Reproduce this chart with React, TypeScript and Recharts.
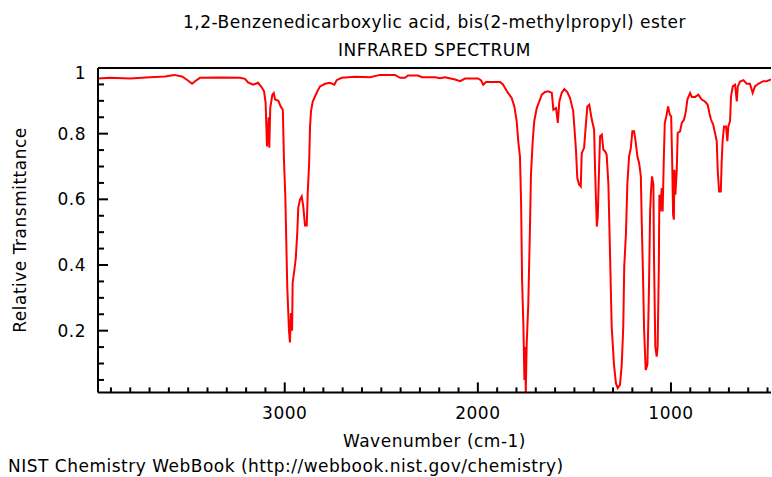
import { LineChart, Line, XAxis, YAxis, ReferenceLine } from 'recharts';

// IR spectrum, left (high cm-1) to right (low cm-1)
const wavenumber = [
  3967, 3905, 3801, 3698, 3620, 3573, 3532, 3501, 3480, 3459, 3439, 3335, 3232, 3206, 3190, 3164,
  3138, 3118, 3107, 3099, 3092, 3083, 3080, 3075, 3064, 3057, 3050, 3033, 3021, 3010, 3004, 2997,
  2987, 2978, 2973, 2968, 2962, 2959, 2950, 2943, 2935, 2930, 2921, 2912, 2904, 2895, 2886, 2881,
  2874, 2869, 2864, 2855, 2843, 2831, 2817, 2791, 2766, 2743, 2731, 2705, 2636, 2558, 2507, 2429,
  2403, 2377, 2362, 2310, 2289, 2222, 2196, 2170, 2118, 2092, 2066, 1999, 1983, 1972, 1958, 1911,
  1885, 1870, 1844, 1825, 1811, 1799, 1790, 1782, 1776, 1771, 1764, 1759, 1754, 1752, 1747, 1739,
  1730, 1725, 1716, 1708, 1695, 1682, 1669, 1652, 1635, 1617, 1609, 1595, 1586, 1578, 1566, 1552,
  1537, 1523, 1506, 1492, 1485, 1476, 1467, 1462, 1450, 1440, 1433, 1423, 1410, 1398, 1393, 1384,
  1379, 1372, 1367, 1358, 1350, 1341, 1333, 1324, 1316, 1307, 1295, 1285, 1276, 1264, 1255, 1247,
  1242, 1233, 1226, 1217, 1208, 1200, 1191, 1182, 1174, 1165, 1156, 1151, 1146, 1139, 1131, 1122,
  1114, 1108, 1103, 1098, 1091, 1088, 1081, 1074, 1069, 1063, 1060, 1055, 1048, 1043, 1037, 1032,
  1024, 1015, 1006, 999, 994, 989, 985, 982, 977, 970, 965, 953, 944, 932, 923, 915,
  901, 892, 875, 858, 841, 824, 810, 801, 793, 781, 772, 763, 758, 751, 742, 737,
  732, 725, 715, 708, 703, 694, 689, 680, 668, 659, 654, 642, 625, 608, 591, 577,
  565, 548, 522, 504, 482,
];
const transmittance = [
  0.968, 0.970, 0.968, 0.972, 0.974, 0.979, 0.974, 0.962, 0.952, 0.962, 0.970, 0.971, 0.970, 0.967, 0.956, 0.949,
  0.955, 0.940, 0.929, 0.894, 0.761, 0.850, 0.757, 0.879, 0.919, 0.924, 0.904, 0.900, 0.883, 0.873, 0.720, 0.609,
  0.334, 0.200, 0.164, 0.254, 0.200, 0.346, 0.385, 0.420, 0.500, 0.574, 0.599, 0.609, 0.578, 0.520, 0.520, 0.620,
  0.705, 0.822, 0.868, 0.898, 0.914, 0.929, 0.944, 0.952, 0.955, 0.949, 0.963, 0.970, 0.973, 0.972, 0.979, 0.979,
  0.970, 0.970, 0.977, 0.977, 0.972, 0.972, 0.969, 0.972, 0.965, 0.960, 0.968, 0.968, 0.962, 0.949, 0.957, 0.957,
  0.957, 0.950, 0.924, 0.909, 0.883, 0.838, 0.772, 0.731, 0.589, 0.355, 0.212, 0.050, 0.150, 0.012, 0.162, 0.279,
  0.517, 0.675, 0.777, 0.838, 0.878, 0.898, 0.919, 0.927, 0.929, 0.924, 0.873, 0.878, 0.833, 0.898, 0.924, 0.936,
  0.927, 0.909, 0.868, 0.751, 0.665, 0.645, 0.639, 0.741, 0.756, 0.833, 0.883, 0.888, 0.843, 0.812, 0.690, 0.517,
  0.548, 0.700, 0.792, 0.797, 0.751, 0.746, 0.736, 0.645, 0.446, 0.212, 0.096, 0.040, 0.025, 0.035, 0.096, 0.212,
  0.395, 0.497, 0.645, 0.731, 0.756, 0.807, 0.807, 0.772, 0.731, 0.711, 0.670, 0.523, 0.400, 0.202, 0.080, 0.096,
  0.325, 0.563, 0.629, 0.670, 0.645, 0.426, 0.151, 0.121, 0.151, 0.385, 0.614, 0.563, 0.634, 0.563, 0.726, 0.833,
  0.853, 0.883, 0.858, 0.853, 0.726, 0.553, 0.538, 0.690, 0.614, 0.690, 0.802, 0.807, 0.833, 0.843, 0.868, 0.904,
  0.924, 0.912, 0.912, 0.919, 0.904, 0.898, 0.888, 0.863, 0.843, 0.827, 0.802, 0.777, 0.690, 0.624, 0.624, 0.721,
  0.782, 0.822, 0.822, 0.777, 0.822, 0.838, 0.914, 0.944, 0.949, 0.898, 0.944, 0.959, 0.963, 0.952, 0.952, 0.924,
  0.944, 0.952, 0.960, 0.960, 0.965,
];

const xTicks = [
  500, 600, 700, 800, 900, 1000, 1100, 1200, 1300, 1400, 1500, 1600, 1700, 1800, 1900, 2000, 2100,
  2200, 2300, 2400, 2500, 2600, 2700, 2800, 2900, 3000, 3100, 3200, 3300, 3400, 3500, 3600, 3700, 3800, 3900,
];
const xLabels = [1000, 2000, 3000];
const yTicks = [
  0.05, 0.1, 0.15, 0.2, 0.25, 0.3, 0.35, 0.4, 0.45, 0.5, 0.55, 0.6, 0.65, 0.7, 0.75, 0.8, 0.85, 0.9, 0.95, 1,
];
const yLabels = ['0.2', '0.4', '0.6', '0.8', '1'];

const data = wavenumber.map((w, i) => ({ w, t: transmittance[i] }));

const FONT = '"DejaVu Sans", sans-serif';
const textStyle = { fontFamily: FONT, fontSize: 17, letterSpacing: 0.5, fill: '#000' };

function XTick({ x, y, payload }: any) {
  const major = xLabels.includes(payload.value);
  return (
    <g>
      <line x1={x} x2={x} y1={y} y2={y - (major ? 10 : 5)} stroke="#000" strokeWidth={2} />
      {major && (
        <text x={x} y={y + 21} textAnchor="middle" dominantBaseline="central" style={textStyle}>
          {payload.value}
        </text>
      )}
    </g>
  );
}

function YTick({ x, y, payload }: any) {
  const v = payload.value;
  const label = String(v);
  const major = yLabels.includes(label);
  return (
    <g>
      <line x1={x} x2={x + (major ? 10 : 6)} y1={y} y2={y} stroke="#000" strokeWidth={2} />
      {major && (
        <text x={x - 12} y={y + (v === 1 ? 5 : 0)} textAnchor="end" dominantBaseline="central" style={textStyle}>
          {label}
        </text>
      )}
    </g>
  );
}

const htmlText = { position: 'absolute' as const, fontSize: 17, letterSpacing: 0.5, lineHeight: '20px', whiteSpace: 'nowrap' as const };

export default function App() {
  return (
    <div style={{ position: 'absolute', left: 0, top: 0, width: 772, height: 477, background: '#fff', fontFamily: FONT }}>
      <div style={{ ...htmlText, left: 98, width: 673, top: 12, textAlign: 'center' }}>
        1,2-Benzenedicarboxylic acid, bis(2-methylpropyl) ester
      </div>
      <div style={{ ...htmlText, left: 98, width: 673, top: 40, textAlign: 'center' }}>
        INFRARED SPECTRUM
      </div>
      <LineChart width={772} height={477} data={data} margin={{ top: 68, right: 1, bottom: 0, left: 0 }}>
        <XAxis
          type="number"
          dataKey="w"
          domain={[482, 3967]}
          reversed
          allowDataOverflow
          ticks={xTicks}
          interval={0}
          tickSize={0}
          tickMargin={0}
          tick={<XTick />}
          axisLine={{ stroke: '#000', strokeWidth: 2 }}
          height={84.6}
        />
        <YAxis
          type="number"
          domain={[0.012, 1]}
          allowDataOverflow
          ticks={yTicks}
          interval={0}
          tickSize={0}
          tickMargin={0}
          tick={<YTick />}
          axisLine={{ stroke: '#000', strokeWidth: 2 }}
          width={98}
        />
        <ReferenceLine y={1} stroke="#000" strokeWidth={2} />
        <Line dataKey="t" type="linear" stroke="#ff0000" strokeWidth={2} dot={false} isAnimationActive={false} />
      </LineChart>
      <div style={{ ...htmlText, left: 20, top: 230, transform: 'translate(-50%, -50%) rotate(-90deg)' }}>
        Relative Transmittance
      </div>
      <div style={{ ...htmlText, left: 98, width: 673, top: 431, textAlign: 'center' }}>
        Wavenumber (cm-1)
      </div>
      <div style={{ ...htmlText, left: 8, top: 456 }}>
        NIST Chemistry WebBook (http://webbook.nist.gov/chemistry)
      </div>
    </div>
  );
}
